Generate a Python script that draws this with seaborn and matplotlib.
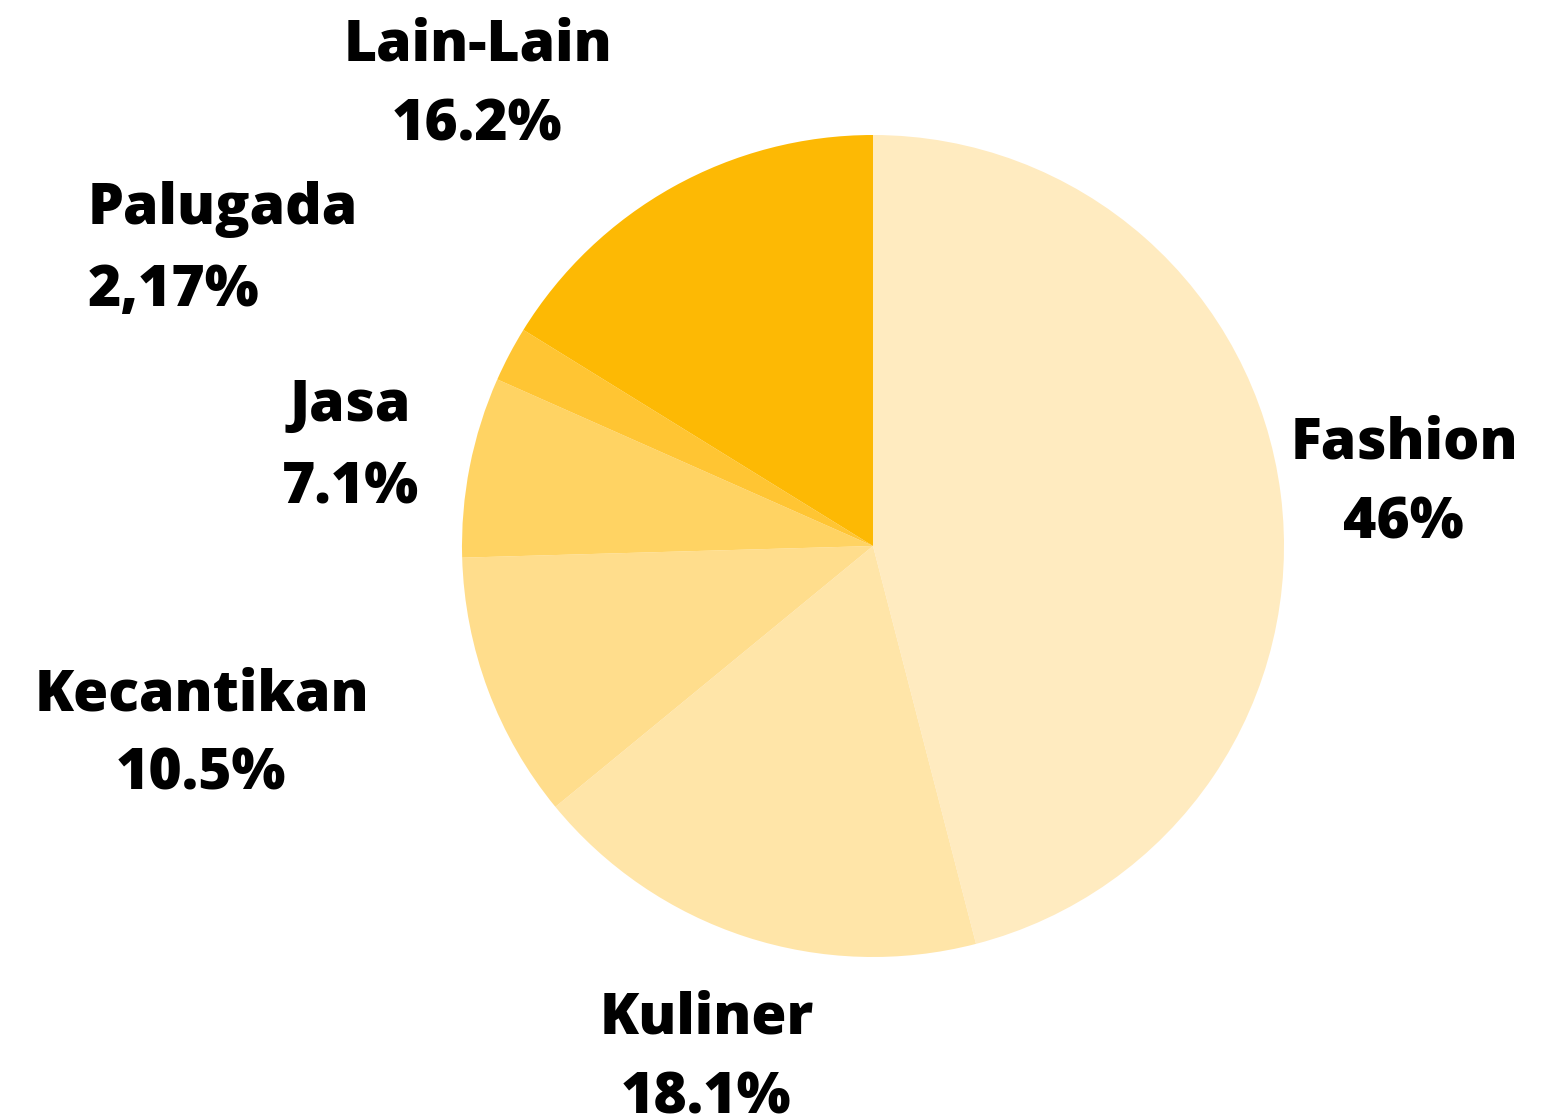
import matplotlib
matplotlib.use('Agg')

import seaborn as sns
import matplotlib.pyplot as plt

# data
kategori = ['Fashion', 'Kuliner', 'Kecantikan', 'Jasa', 'Palugada', 'Lain-Lain']
persen = [46, 18.1, 10.5, 7.1, 2.17, 16.2]
label_persen = ['46%', '18.1%', '10.5%', '7.1%', '2,17%', '16.2%']
warna = ['#FFEBC0', '#FFE5A8', '#FFDD8C', '#FFD363', '#FFC533', '#FDB904']

# label layout (figure pixels, origin top-left): name centre, percent centre, alignment
pos_nama = [(1404, 444), (707, 1019), (202, 696), (350, 406), (88, 209), (478, 46)]
pos_persen = [(1403, 524), (706, 1099), (201, 775), (350, 489), (88, 291), (477, 126)]
rata = ['center', 'center', 'center', 'center', 'left', 'center']

sns.set_theme(style="white")
plt.rcParams['font.family'] = ['Open Sans', 'DejaVu Sans']

W, H = 1552, 1117
fig = plt.figure(figsize=(W / 100, H / 100), dpi=100)
ax = fig.add_axes([0, 0, 1, 1])

cx, cy, r = 873, 546, 411
ax.pie(persen, colors=warna, startangle=90, counterclock=False,
       wedgeprops=dict(linewidth=0))
ax.set_xlim(-cx / r, (W - cx) / r)
ax.set_ylim(-(H - cy) / r, cy / r)
ax.set_aspect('auto')
ax.axis('off')

for nama, pct, pn, pp, ha in zip(kategori, label_persen, pos_nama, pos_persen, rata):
    ax.annotate(nama, xy=(pn[0], H - pn[1]), xycoords='figure pixels',
                ha=ha, va='center', fontsize=41, fontweight='heavy', color='black')
    ax.annotate(pct, xy=(pp[0], H - pp[1]), xycoords='figure pixels',
                ha=ha, va='center', fontsize=41, fontweight='heavy', color='black')

fig.savefig('out.png', dpi=100, facecolor='white')
